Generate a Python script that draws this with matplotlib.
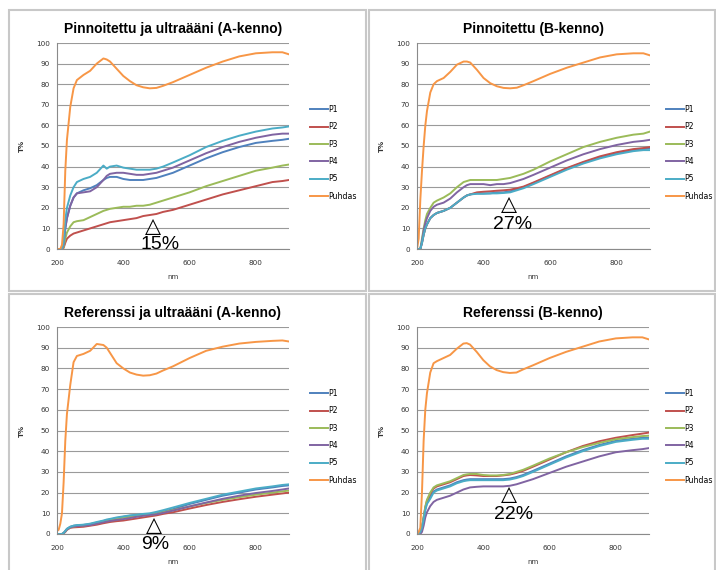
import matplotlib
matplotlib.use("Agg")
import matplotlib.pyplot as plt
from matplotlib.patches import Rectangle

W, H = 716, 570

# Wavelength grid (nm) shared by all series
wl = [200, 205, 210, 215, 220, 225, 230, 240, 250, 260, 280, 300, 320, 340, 350, 360, 380,
      400, 420, 440, 460, 480, 500, 520, 550, 600, 650, 700, 750, 800, 850, 880, 900]

labels = ["P1", "P2", "P3", "P4", "P5", "Puhdas"]
colors = ["#4F81BD", "#C0504D", "#9BBB59", "#8064A2", "#4BACC6", "#F79646"]

titles = ["Pinnoitettu ja ultraääni (A-kenno)", "Pinnoitettu (B-kenno)",
          "Referenssi ja ultraääni (A-kenno)", "Referenssi (B-kenno)"]
notes = ["15%", "27%", "9%", "22%"]

# Panel 1: Pinnoitettu ja ultraääni (A-kenno)
p1_1 = [0, 0, 0, 0, 2, 10, 15, 21, 25, 27, 28.5, 29.5, 31, 33.5, 34.5, 35, 35, 34, 33.5, 33.5, 33.5, 34, 34.5, 35.5, 37, 40.5, 44, 47, 49.5, 51.5, 52.5, 53, 53.5]
p2_1 = [0, 0, 0, 0, 0.5, 3, 5, 6.5, 7.5, 8, 9, 10, 11, 12, 12.5, 13, 13.5, 14, 14.5, 15, 16, 16.5, 17, 18, 19, 21.5, 24, 26.5, 28.5, 30.5, 32.5, 33, 33.5]
p3_1 = [0, 0, 0, 0, 1, 5, 8, 11, 13, 13.5, 14, 15.5, 17, 18.5, 19, 19.5, 20, 20.5, 20.5, 21, 21, 21.5, 22.5, 23.5, 25, 27.5, 30.5, 33, 35.5, 38, 39.5, 40.5, 41]
p4_1 = [0, 0, 0, 0, 2, 10, 15, 21, 25, 27, 27.5, 28, 30, 33.5, 35.5, 36.5, 37, 37, 36.5, 36, 36, 36.5, 37, 38, 39.5, 43, 46.5, 49.5, 52, 54, 55.5, 56, 56]
p5_1 = [0, 0, 0, 0, 3, 14, 20, 26, 30, 32.5, 34, 35, 37, 40.5, 39, 40, 40.5, 39.5, 39, 38.5, 38.5, 38.5, 39, 40, 42, 45.5, 49.5, 52.5, 55, 57, 58.5, 59, 59.5]
pu_1 = [0, 0, 0, 2, 12, 38, 53, 69, 78, 82, 84.5, 86.5, 90, 92.5, 92, 91, 87.5, 84, 81.5, 79.5, 78.5, 78, 78.2, 79.2, 81, 84.5, 88, 91, 93.5, 95, 95.5, 95.5, 94.5]

# Panel 2: Pinnoitettu (B-kenno)
p1_2 = [0, 0, 0, 3, 7, 10, 12, 15, 16.5, 17.5, 18.5, 20, 22.5, 25, 26, 26.5, 27, 27, 27, 27.5, 27.5, 28, 29, 30, 32, 35.5, 39, 42, 44.5, 46.5, 48, 48.5, 49]
p2_2 = [0, 0, 0, 3, 7, 10, 12, 15, 16.5, 17.5, 18.5, 20, 22.5, 25, 26, 26.5, 27.5, 27.8, 28, 28.3, 28.5, 28.8, 29.5, 30.3, 32.3, 35.8, 39.3, 42.3, 45, 47, 48.5, 49, 49.5]
p3_2 = [0, 0, 0, 5, 10, 14, 17, 20, 22.5, 23.5, 25, 27, 30, 32.5, 33, 33.5, 33.5, 33.5, 33.5, 33.5, 34, 34.5, 35.5, 36.5, 38.5, 42.5, 46, 49.5, 52, 54, 55.5, 56, 57]
p4_2 = [0, 0, 0, 4, 9, 12.5, 15, 18.5, 20.5, 21.5, 22.5, 24.5, 27.5, 30, 31, 31.5, 31.5, 31.5, 31, 31.5, 31.5, 32, 33, 34, 36, 39.5, 43, 46, 48.5, 50.5, 52, 52.5, 53]
p5_2 = [0, 0, 0, 3, 7, 10, 12, 15, 16.5, 17.5, 18.5, 20, 22.5, 25, 26, 26.5, 26.8, 26.8, 27, 27, 27.2, 27.5, 28.5, 29.5, 31.5, 35, 38.5, 41.5, 44, 46, 47.5, 48, 48]
pu_2 = [0, 5, 24, 38, 50, 60, 67, 76, 80, 81.5, 83, 86, 89.5, 91, 91, 90.5, 87, 83, 80.5, 79, 78.2, 78, 78.3, 79.5, 81.5, 85, 88, 90.5, 93, 94.5, 95, 95, 94]

# Panel 3: Referenssi ja ultraääni (A-kenno)
p1_3 = [0, 0, 0, 0, 0.5, 1.5, 2.5, 3.5, 4, 4.2, 4.4, 4.8, 5.5, 6.3, 6.7, 7, 7.7, 8.3, 8.8, 9.1, 9.4, 9.7, 10, 10.8, 12, 14.5, 16.5, 18.5, 20, 21.5, 22.5, 23.2, 23.5]
p2_3 = [0, 0, 0, 0, 0.3, 1, 2, 3, 3.2, 3.3, 3.5, 4, 4.5, 5.2, 5.5, 5.8, 6.2, 6.5, 7, 7.5, 8, 8.5, 9, 9.7, 10.5, 12.3, 14, 15.5, 16.8, 18, 19, 19.6, 20]
p3_3 = [0, 0, 0, 0, 0.4, 1.2, 2.2, 3.2, 3.6, 3.8, 4.1, 4.5, 5.2, 6, 6.4, 6.7, 7.3, 8, 8.3, 8.6, 9, 9.3, 9.7, 10.5, 11.5, 13.3, 15, 16.5, 17.8, 19, 20, 20.6, 21]
p4_3 = [0, 0, 0, 0, 0.4, 1.2, 2.2, 3.2, 3.6, 3.8, 4, 4.3, 5, 5.7, 6, 6.3, 6.8, 7.2, 7.7, 8.3, 8.8, 9.2, 9.5, 10.2, 11.3, 13.3, 15.2, 17, 18.5, 19.8, 20.8, 21.5, 22]
p5_3 = [0, 0, 0, 0, 0.5, 1.5, 2.5, 3.5, 4, 4.3, 4.5, 5, 5.8, 6.5, 7, 7.3, 8, 8.5, 9, 9.3, 9.7, 10, 10.7, 11.5, 12.8, 15, 17, 19, 20.5, 22, 23, 23.7, 24]
pu_3 = [1.5, 2, 5, 10, 25, 45, 58, 72, 83, 86, 87, 88.5, 91.8, 91.3, 90, 87.5, 82.5, 80, 78, 77, 76.5, 76.7, 77.5, 79, 81, 85, 88.5, 90.5, 92, 92.8, 93.3, 93.5, 93]

# Panel 4: Referenssi (B-kenno)
p1_4 = [0, 0, 1, 3, 7.5, 12, 15, 18, 20.5, 21.5, 22.5, 23.5, 25, 26, 26.3, 26.5, 26.5, 26.5, 26.5, 26.5, 26.5, 26.8, 27.5, 28.5, 30.5, 34, 37.5, 40.5, 43, 45, 46, 46.5, 46.5]
p2_4 = [0, 0, 1, 3, 8, 13, 16, 19.5, 22, 23, 24, 25, 26.5, 28, 28.3, 28.5, 28.3, 28, 28, 28, 28.3, 28.7, 29.5, 30.5, 32.5, 36, 39.5, 42.5, 44.8, 46.5, 47.8, 48.5, 49]
p3_4 = [0, 0, 1, 3, 8, 13, 16.5, 20, 22.5, 23.5, 24.5, 25.5, 27, 28.5, 28.8, 29, 29, 28.5, 28.3, 28.3, 28.5, 29, 30, 31, 33, 36.5, 39.5, 42, 44, 45.8, 46.8, 47.3, 47.5]
p4_4 = [0, 0, 0, 1, 4, 8, 10.5, 13.5, 15.5, 16.5, 17.5, 18.5, 20, 21.5, 22, 22.5, 22.8, 23, 23, 23, 23, 23.3, 24, 25, 26.5, 29.5, 32.5, 35, 37.5, 39.5, 40.5, 41, 41.5]
p5_4 = [0, 0, 1, 3, 7, 11.5, 14.5, 17, 20, 21, 22, 23, 24.5, 25.5, 25.8, 26, 26, 26, 26, 26, 26, 26.3, 27, 28, 30, 33.5, 37, 40, 42.5, 44.5, 45.5, 46, 46]
pu_4 = [0, 1, 3, 20, 45, 60, 68, 78, 82.5, 83.5, 85, 86.5, 89.5, 92, 92.2, 91.5, 88, 84, 81, 79.2, 78.2, 77.8, 78, 79.5, 81.5, 85, 88, 90.5, 93, 94.5, 95, 95, 94]

panels = [
    [p1_1, p2_1, p3_1, p4_1, p5_1, pu_1],
    [p1_2, p2_2, p3_2, p4_2, p5_2, pu_2],
    [p1_3, p2_3, p3_3, p4_3, p5_3, pu_3],
    [p1_4, p2_4, p3_4, p4_4, p5_4, pu_4],
]

# Pixel layout (left, top, right, bottom) of each plot area, panel frame, legend origin
plot_px = [(57, 43, 289, 249), (417, 43, 650, 249), (57, 327, 289, 534), (417, 327, 649, 534)]
frame_px = [(9, 10, 366, 291), (369, 10, 715, 291), (9, 294, 366, 575), (369, 294, 715, 575)]
legend_px = [(310, 105), (666, 105), (310, 389), (666, 389)]
# annotation positions in data coords: triangle, text
note_pos = [((490, 11.2), (511, 2.0)), ((476, 21.8), (488, 12.1)),
            ((493, 4.3), (496, -5.3)), ((478, 19.3), (490, 9.2))]

fig = plt.figure(figsize=(W / 100, H / 100), dpi=100)
fig.patch.set_facecolor("white")

for i in range(4):
    x0, y0, x1, y1 = frame_px[i]
    fig.add_artist(Rectangle((x0 / W, 1 - y1 / H), (x1 - x0) / W, (y1 - y0) / H,
                             transform=fig.transFigure, fill=False, ec="#c8c8c8", lw=1.5))

    l, t, r, b = plot_px[i]
    ax = fig.add_axes([l / W, 1 - b / H, (r - l) / W, (b - t) / H])
    for k in range(6):
        ax.plot(wl, panels[i][k], color=colors[k], lw=1.4, label=labels[k])

    ax.set_xlim(200, 900)
    ax.set_ylim(0, 100)
    ax.set_xticks([200, 400, 600, 800])
    ax.set_yticks(range(0, 101, 10))
    ax.grid(axis="y", color="#9a9a9a", lw=0.8)
    ax.set_axisbelow(True)
    for s in ["top", "right"]:
        ax.spines[s].set_visible(False)
    for s in ["left", "bottom"]:
        ax.spines[s].set_color("#8a8a8a")
        ax.spines[s].set_linewidth(0.8)
    ax.tick_params(length=0, labelsize=5.2, labelcolor="#333333")
    ax.tick_params(axis="x", pad=8)
    ax.tick_params(axis="y", pad=5)
    ax.set_xlabel("nm", fontsize=5, color="#333333", labelpad=6)
    ax.set_ylabel("T%", fontsize=5, color="#333333", labelpad=8, fontweight="bold")

    ax.set_title(titles[i], fontsize=10, fontweight="bold", family="Liberation Sans", pad=7)

    lx, ly = legend_px[i]
    ax.legend(loc="upper left", bbox_to_anchor=(lx / W, 1 - ly / H), bbox_transform=fig.transFigure,
              frameon=False, fontsize=5.6, handlelength=2.3, handletextpad=0.1,
              labelspacing=1.07, borderpad=0, borderaxespad=0)

    (tx, ty), (nx, ny) = note_pos[i]
    ax.text(tx, ty, "\u25b3", fontsize=15, ha="center", va="center", family=["DejaVu Sans"], clip_on=False)
    ax.text(nx, ny, notes[i], fontsize=14, ha="center", va="center", family=["Liberation Sans"], clip_on=False)

plt.savefig("out.png", dpi=100)
